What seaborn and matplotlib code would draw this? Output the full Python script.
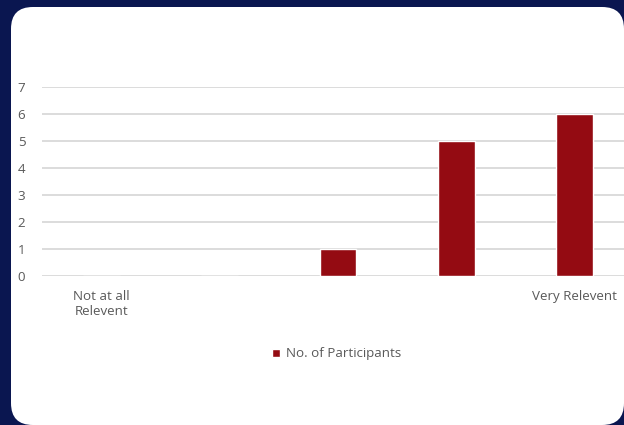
import matplotlib
matplotlib.use("Agg")
import matplotlib.pyplot as plt
from matplotlib.patches import FancyBboxPatch
import seaborn as sns
import pandas as pd

categories = ["1", "2", "3", "4", "5"]
tick_labels = ["Not at all\nRelevent", "", "", "", "Very Relevent"]
values = [0, 0, 1, 5, 6]
series_name = "No. of Participants"

sns.set_theme(style="white")
plt.rcParams['font.family'] = ['Open Sans', 'DejaVu Sans']

W, H = 624, 425
fig = plt.figure(figsize=(W / 100, H / 100), dpi=100, facecolor="#0a1650")

# white rounded panel
panel = FancyBboxPatch((11 / W, 0 / H), (W - 11) / W, (H - 7) / H,
                       boxstyle="round,pad=0,rounding_size=0.035",
                       transform=fig.transFigure, facecolor="white",
                       edgecolor="none", mutation_aspect=W / H, zorder=-5)
fig.patches.append(panel)

ax_left, ax_right = 42, 634
ax_top, ax_bottom = 87, 276
ax = fig.add_axes([ax_left / W, 1 - ax_bottom / H, (ax_right - ax_left) / W, (ax_bottom - ax_top) / H])
ax.set_zorder(2)
ax.set_facecolor("none")

df = pd.DataFrame({"cat": categories, "val": values, "series": series_name})
sns.barplot(data=df, x="cat", y="val", hue="series", palette=["#940b12"],
            width=0.31, ax=ax, legend=True, saturation=1)

ax.set_ylim(0, 7)
ax.set_yticks(range(0, 8))
ax.yaxis.grid(True, color="#d9d9d9", linewidth=1.3)
ax.set_axisbelow(True)
for s in ax.spines.values():
    s.set_visible(False)
ax.set_xlabel("")
ax.set_ylabel("")
ax.set_xticks(range(len(categories)))
ax.set_xticklabels(tick_labels, color="#595959", fontsize=9.6, linespacing=1.25)
ax.tick_params(axis="x", length=0, pad=10)
ax.tick_params(axis="y", length=0, pad=12, labelcolor="#595959", labelsize=9.6)
for lbl in ax.get_yticklabels():
    lbl.set_horizontalalignment("right")

leg = ax.legend(loc="center", bbox_to_anchor=(337 / W, 1 - 354 / H),
                bbox_transform=fig.transFigure, frameon=False, fontsize=9.6,
                handlelength=0.6, handleheight=0.6, handletextpad=0.45)
for t in leg.get_texts():
    t.set_color("#595959")

fig.savefig("out.png", dpi=100, facecolor=fig.get_facecolor())
